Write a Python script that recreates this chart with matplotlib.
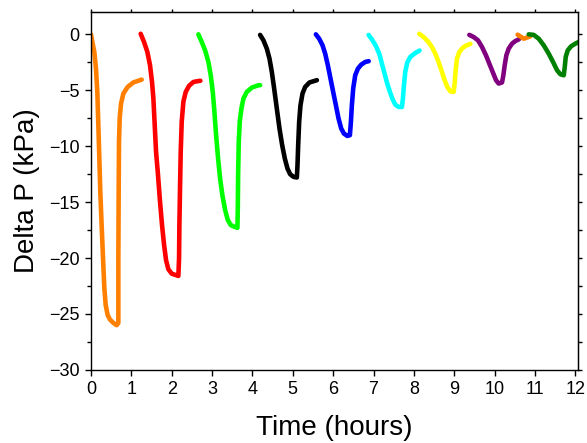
import matplotlib
matplotlib.use("Agg")
import matplotlib.pyplot as plt
from matplotlib.ticker import MultipleLocator

plt.rcParams['font.family'] = ['Liberation Sans', 'DejaVu Sans']

# time (hours) and delta P (kPa) for each cycle
t1 = [0.0, 0.033, 0.083, 0.124, 0.157, 0.182, 0.207, 0.231, 0.264, 0.298, 0.331, 0.364,
      0.413, 0.471, 0.554, 0.636, 0.678, 0.678, 0.686, 0.694, 0.711, 0.744, 0.802, 0.909,
      1.05, 1.256]
p1 = [0.0, -0.68, -1.58, -3.07, -5.15, -8.1, -11.1, -14.1, -17.05, -20.0, -22.7, -24.2,
      -25.1, -25.5, -25.8, -26.0, -25.8, -20.0, -14.1, -9.6, -7.5, -6.2, -5.3, -4.7,
      -4.3, -4.05]

t2 = [1.231, 1.314, 1.397, 1.463, 1.512, 1.546, 1.579, 1.612, 1.661, 1.711, 1.76, 1.81,
      1.86, 1.917, 2.0, 2.083, 2.165, 2.182, 2.19, 2.207, 2.223, 2.248, 2.29, 2.347,
      2.43, 2.537, 2.62, 2.71]
p2 = [0.05, -0.68, -1.58, -2.77, -4.26, -5.74, -8.13, -10.5, -12.6, -15.0, -17.05, -18.8,
      -20.2, -21.0, -21.4, -21.5, -21.6, -20.0, -17.05, -13.5, -10.5, -7.8, -6.0, -5.15,
      -4.6, -4.26, -4.2, -4.15]

t3 = [2.661, 2.744, 2.827, 2.909, 2.967, 3.017, 3.058, 3.099, 3.149, 3.199, 3.256, 3.323,
      3.389, 3.463, 3.546, 3.628, 3.637, 3.645, 3.661, 3.686, 3.728, 3.777, 3.86, 3.984,
      4.149, 4.19]
p3 = [0.0, -0.68, -1.43, -2.47, -3.66, -5.15, -6.93, -9.0, -11.1, -12.9, -14.4, -15.7,
      -16.6, -17.05, -17.2, -17.3, -15.6, -12.6, -9.6, -7.8, -6.6, -5.74, -5.15, -4.76,
      -4.55, -4.55]

t4 = [4.19, 4.273, 4.356, 4.422, 4.48, 4.538, 4.604, 4.67, 4.736, 4.802, 4.868, 4.934,
      5.017, 5.1, 5.116, 5.133, 5.157, 5.19, 5.24, 5.306, 5.414, 5.596]
p4 = [-0.05, -0.54, -1.28, -2.17, -3.36, -4.85, -6.64, -8.42, -9.9, -11.1, -12.0, -12.5,
      -12.74, -12.8, -11.7, -9.9, -7.83, -6.34, -5.3, -4.7, -4.3, -4.1]

t5 = [5.571, 5.653, 5.736, 5.802, 5.868, 5.934, 6.0, 6.067, 6.133, 6.199, 6.265, 6.348,
      6.414, 6.439, 6.463, 6.496, 6.546, 6.612, 6.695, 6.794, 6.88]
p5 = [0.0, -0.39, -0.98, -1.73, -2.77, -3.96, -5.15, -6.34, -7.53, -8.42, -8.87, -9.08,
      -9.02, -7.83, -6.34, -4.85, -3.66, -3.07, -2.71, -2.47, -2.4]

t6 = [6.877, 6.959, 7.058, 7.141, 7.207, 7.273, 7.339, 7.406, 7.472, 7.538, 7.62, 7.703,
      7.728, 7.753, 7.786, 7.835, 7.91, 8.034, 8.14]
p6 = [-0.05, -0.45, -1.04, -1.73, -2.62, -3.51, -4.4, -5.15, -5.8, -6.28, -6.49, -6.49,
      -5.74, -4.55, -3.36, -2.53, -2.02, -1.67, -1.45]

t7 = [8.133, 8.24, 8.348, 8.447, 8.53, 8.612, 8.695, 8.761, 8.827, 8.902, 8.984, 9.009,
      9.034, 9.067, 9.125, 9.207, 9.273, 9.4]
p7 = [0.05, -0.24, -0.63, -1.13, -1.73, -2.47, -3.36, -4.1, -4.7, -5.09, -5.15, -4.4,
      -3.21, -2.17, -1.58, -1.22, -1.04, -0.85]

t8 = [9.373, 9.48, 9.588, 9.687, 9.786, 9.885, 9.968, 10.034, 10.1, 10.183, 10.216,
      10.249, 10.29, 10.348, 10.431, 10.513, 10.6]
p8 = [-0.05, -0.24, -0.54, -1.13, -1.88, -2.77, -3.51, -4.1, -4.4, -4.3, -3.66,
      -2.77, -1.88, -1.28, -0.83, -0.6, -0.45]

t9 = [10.57, 10.72, 10.885]
p9 = [-0.03, -0.39, -0.18]

t10 = [10.844, 10.968, 11.092, 11.216, 11.34, 11.447, 11.546, 11.629, 11.712, 11.737,
       11.761, 11.811, 11.894, 12.0, 12.084]
p10 = [0.0, -0.05, -0.39, -0.98, -1.73, -2.47, -3.21, -3.57, -3.66, -2.92,
       -2.02, -1.43, -1.07, -0.83, -0.68]

times = [t1, t2, t3, t4, t5, t6, t7, t8, t9, t10]
dps = [p1, p2, p3, p4, p5, p6, p7, p8, p9, p10]
colors = ['#ff8000', '#ff0000', '#00ff00', '#000000', '#0000ff',
          '#00ffff', '#ffff00', '#800080', '#ff8000', '#008000']

fig = plt.figure(figsize=(5.87, 4.43), dpi=100)
ax = fig.add_axes([0.155, 0.165, 0.83, 0.808])

for t, p, c in zip(times, dps, colors):
    ax.plot(t, p, color=c, lw=3.3, solid_capstyle='round', solid_joinstyle='round')

ax.set_xlim(0, 12.07)
ax.set_ylim(-30, 2)
ax.xaxis.set_major_locator(MultipleLocator(1))
ax.yaxis.set_major_locator(MultipleLocator(5))
ax.yaxis.set_minor_locator(MultipleLocator(2.5))

ax.tick_params(which='major', direction='out', length=4.5, width=1, labelsize=13)
ax.tick_params(which='minor', direction='out', length=3, width=1)
for s in ax.spines.values():
    s.set_linewidth(1)

# mirrored ticks on top and right, no labels
top = ax.secondary_xaxis('top')
top.xaxis.set_major_locator(MultipleLocator(1))
top.tick_params(direction='out', length=2, width=1, labeltop=False)
right = ax.secondary_yaxis('right')
right.yaxis.set_major_locator(MultipleLocator(2.5))
right.tick_params(direction='out', length=3, width=1, labelright=False)

ax.set_xlabel('Time (hours)', fontsize=20, labelpad=12)
ax.set_ylabel('Delta P (kPa)', fontsize=20, labelpad=7)

fig.savefig('out.png', dpi=100)
